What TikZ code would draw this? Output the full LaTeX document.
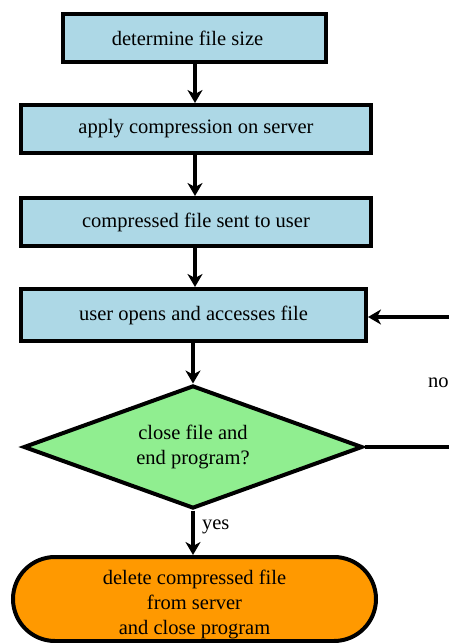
\documentclass[tikz,border=0pt]{standalone}
\usepackage{fontspec}
\setmainfont{Liberation Serif}
\usetikzlibrary{shapes.geometric,shapes.misc,arrows.meta}
\definecolor{boxblue}{RGB}{173,216,230}
\definecolor{decgreen}{RGB}{144,238,144}
\definecolor{endorange}{RGB}{255,153,0}
\begin{document}
\begin{tikzpicture}[x=1pt,y=-1pt,
  every node/.style={font=\fontsize{20.5}{25}\selectfont, text=black},
  stepbox/.style={draw=black, line width=4pt, fill=boxblue, rectangle, inner sep=0pt},
  decision/.style={draw=black, line width=4pt, fill=decgreen, diamond, aspect=2.75, inner sep=0pt, align=center},
  terminal/.style={draw=black, line width=4pt, fill=endorange, rounded rectangle, inner sep=0pt, align=center},
  flow/.style={line width=3.5pt, -{Stealth[length=13pt,width=15pt,inset=4pt]}},
  plain/.style={line width=3.5pt}]
\useasboundingbox (0,0) rectangle (449,643);
\clip (0,0) rectangle (449,643);
\node[stepbox, minimum width=263pt, minimum height=48pt] (size) at (194.5,38) {determine file size\hspace*{14pt}};
\node[stepbox, minimum width=350pt, minimum height=48pt] (comp) at (196,129) {apply compression on server};
\node[stepbox, minimum width=350pt, minimum height=48pt] (sent) at (196,222) {compressed file sent to user};
\node[stepbox, minimum width=345pt, minimum height=52pt] (open) at (193.5,315) {user opens and accesses file};
\node[decision, minimum width=339pt, minimum height=123pt] (close) at (193,447) {close file and\\end program?};
\node[terminal, minimum width=363pt, minimum height=84pt] (del) at (194.5,599) {};
\node[align=center, font=\fontsize{20.5}{25}\selectfont] (deltext) at (194.5,604) {delete compressed file\\from server\\and close program};
\coordinate (loopin) at (460,447);
\coordinate (loopup) at (460,317);
\draw[flow] (size.south -| 195,0) -- (comp.north -| 195,0);
\draw[flow] (comp.south -| 195,0) -- (sent.north -| 195,0);
\draw[flow] (sent.south -| 195,0) -- (open.north -| 195,0);
\draw[flow] (open.south -| 193,0) -- (close.north);
\draw[flow] (close.south) -- node[right, xshift=4pt, yshift=6pt] {yes} (del.north -| 193,0);
\draw[plain] (close.east) -- (loopin);
\draw[flow] (loopup) -- (open.east |- loopup);
\node[anchor=west, inner sep=0pt] (no) at (428,383) {no};
\end{tikzpicture}
\end{document}
